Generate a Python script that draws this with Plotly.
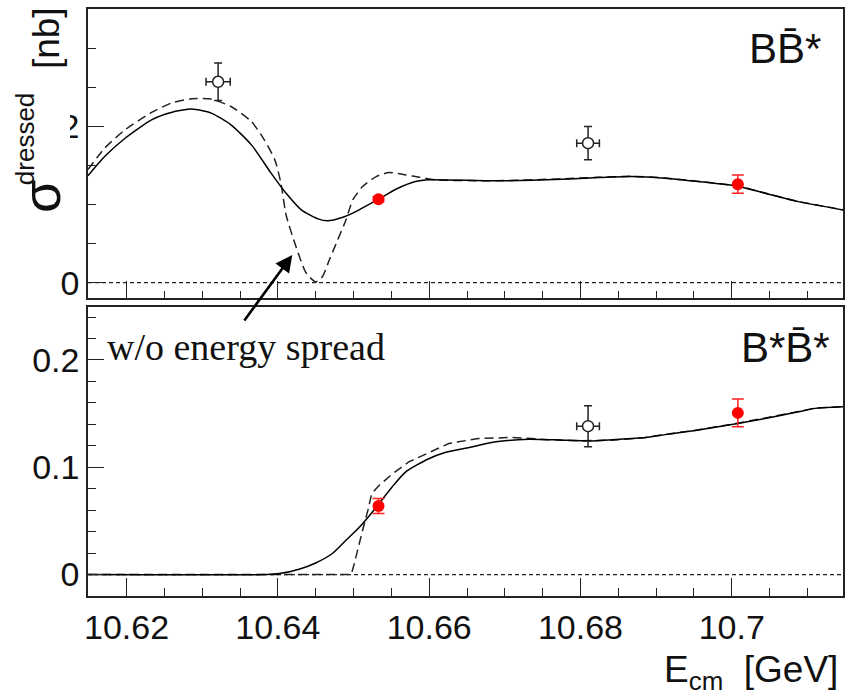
import plotly.graph_objects as go

# ---------------- data ----------------
# B Bbar* : model curves (with / without beam energy spread)
e_bbs_spread = [10.6149, 10.6171, 10.6198, 10.6233, 10.6259, 10.6286, 10.6312, 10.6338,
                10.6365, 10.6391, 10.6409, 10.6431, 10.6453, 10.6466, 10.6486, 10.6499,
                10.6533, 10.6556, 10.6582, 10.6600, 10.6688, 10.6776, 10.6824, 10.6868,
                10.6912, 10.6956, 10.7008, 10.7044, 10.7088, 10.7147]
s_bbs_spread = [0.1370, 0.1615, 0.1850, 0.2086, 0.2180, 0.2223, 0.2172, 0.2022,
                0.1765, 0.1403, 0.1167, 0.0932, 0.0817, 0.0792, 0.0838, 0.0890,
                0.1069, 0.1197, 0.1295, 0.1317, 0.1304, 0.1325, 0.1346, 0.1359,
                0.1338, 0.1295, 0.1235, 0.1146, 0.1038, 0.0932]

e_bbs_nospread = [10.6149, 10.6171, 10.6198, 10.6233, 10.6259, 10.6286, 10.6312, 10.6338,
                  10.6365, 10.6382, 10.6396, 10.6404, 10.6411, 10.6424, 10.6437, 10.6450,
                  10.6459, 10.6468, 10.6479, 10.6490, 10.6499, 10.6512, 10.6530, 10.6547,
                  10.6569, 10.6587, 10.6609, 10.6688, 10.6776, 10.6824, 10.6868, 10.6912,
                  10.6956, 10.7008, 10.7044, 10.7088, 10.7147]
s_bbs_nospread = [0.1450, 0.1723, 0.1958, 0.2180, 0.2300, 0.2355, 0.2351, 0.2256,
                  0.2064, 0.1830, 0.1573, 0.1274, 0.0860, 0.0460, 0.0130, 0.0010,
                  0.0080, 0.0291, 0.0547, 0.0804, 0.1060, 0.1231, 0.1359, 0.1410,
                  0.1380, 0.1351, 0.1317, 0.1306, 0.1330, 0.1350, 0.1362, 0.1340,
                  0.1297, 0.1237, 0.1148, 0.1040, 0.0934]

# B Bbar* : measurements
e_bbs_open = [10.6321, 10.6810]
s_bbs_open = [0.2573, 0.1787]
ds_bbs_open = [0.0240, 0.0214]
de_bbs_open = [0.0016, 0.0015]

e_bbs_red = [10.6533, 10.7008]
s_bbs_red = [0.1069, 0.1262]
ds_bbs_red = [0.0030, 0.0118]

# B* Bbar* : model curves
e_bsbs_spread = [10.6149, 10.6385, 10.6402, 10.6428, 10.6450, 10.6472, 10.6490, 10.6508,
                 10.6525, 10.6551, 10.6569, 10.6598, 10.6622, 10.6653, 10.6688, 10.6732,
                 10.6776, 10.6811, 10.6846, 10.6886, 10.6916, 10.6956, 10.7008, 10.7044,
                 10.7088, 10.7110, 10.7147]
s_bsbs_spread = [0.0, 0.0, 0.0009, 0.0050, 0.0108, 0.0196, 0.0320, 0.0444,
                 0.0584, 0.0817, 0.0957, 0.1075, 0.1140, 0.1185, 0.1237, 0.1262,
                 0.1253, 0.1246, 0.1259, 0.1278, 0.1309, 0.1347, 0.1409, 0.1455,
                 0.1517, 0.1549, 0.1563]

e_bsbs_nospread = [10.6149, 10.6497, 10.6501, 10.6507, 10.6512, 10.6519, 10.6524, 10.6534,
                   10.6552, 10.6573, 10.6604, 10.6626, 10.6665, 10.6710, 10.6754, 10.6798,
                   10.6842, 10.6886, 10.6916, 10.6956, 10.7008, 10.7044, 10.7088, 10.7110,
                   10.7147]
s_bsbs_nospread = [0.0, 0.0, 0.0103, 0.0258, 0.0413, 0.0600, 0.0756, 0.0833,
                   0.0942, 0.1050, 0.1153, 0.1222, 0.1268, 0.1278, 0.1259, 0.1246,
                   0.1253, 0.1278, 0.1311, 0.1349, 0.1411, 0.1457, 0.1519, 0.1551,
                   0.1565]

# B* Bbar* : measurements
e_bsbs_open = [10.6810]
s_bsbs_open = [0.1383]
ds_bsbs_open = [0.0191]
de_bsbs_open = [0.0015]

e_bsbs_red = [10.6533, 10.7008]
s_bsbs_red = [0.0640, 0.1507]
ds_bsbs_red = [0.0070, 0.0129]

x_range = [10.6149, 10.7147]
y_range_top = [-0.02, 0.3505]
y_range_bot = [-0.02, 0.2494]

# ---------------- styling ----------------
INK = "#222222"
SANS = "Liberation Sans, Arial, sans-serif"
TICK_FONT = dict(family=SANS, size=34, color="#111111")
W, H = 852, 700
ML, MR, MT, MB = 88, 7, 9, 104


def px_to_paper(px, py):
    """Pixel position in the page -> paper coordinates."""
    return (px - ML) / (W - ML - MR), (H - MB - py) / (H - MT - MB)


fig = go.Figure()


def add_panel(xa, ya, e_spread, s_spread, e_nospread, s_nospread,
              e_open, s_open, ds_open, de_open, e_red, s_red, ds_red, dash_shape):
    # dotted zero line
    fig.add_trace(go.Scatter(x=x_range, y=[0, 0], mode="lines", xaxis=xa, yaxis=ya,
                             line=dict(color=INK, width=1.2, dash="4px,3px"),
                             hoverinfo="skip", showlegend=False))
    # without energy spread
    fig.add_trace(go.Scatter(x=e_nospread, y=s_nospread, mode="lines", xaxis=xa, yaxis=ya,
                             line=dict(color=INK, width=1.5, dash="9px,5px",
                                       shape=dash_shape, smoothing=0.6),
                             showlegend=False))
    # with energy spread
    fig.add_trace(go.Scatter(x=e_spread, y=s_spread, mode="lines", xaxis=xa, yaxis=ya,
                             line=dict(color="black", width=1.5, shape="spline", smoothing=0.6),
                             showlegend=False))
    # open markers
    fig.add_trace(go.Scatter(x=e_open, y=s_open, mode="markers", xaxis=xa, yaxis=ya,
                             marker=dict(symbol="circle", size=11, color="white",
                                         line=dict(color=INK, width=1.5)),
                             error_y=dict(type="data", array=ds_open, color=INK,
                                          thickness=1.5, width=4),
                             error_x=dict(type="data", array=de_open, color=INK,
                                          thickness=1.5, width=4),
                             showlegend=False))
    # filled red markers
    fig.add_trace(go.Scatter(x=e_red, y=s_red, mode="markers", xaxis=xa, yaxis=ya,
                             marker=dict(symbol="circle", size=12, color="#ff0000"),
                             error_y=dict(type="data", array=ds_red, color="#ff2020",
                                          thickness=1.5, width=6),
                             showlegend=False))


add_panel("x", "y", e_bbs_spread, s_bbs_spread, e_bbs_nospread, s_bbs_nospread,
          e_bbs_open, s_bbs_open, ds_bbs_open, de_bbs_open,
          e_bbs_red, s_bbs_red, ds_bbs_red, "spline")
add_panel("x2", "y2", e_bsbs_spread, s_bsbs_spread, e_bsbs_nospread, s_bsbs_nospread,
          e_bsbs_open, s_bsbs_open, ds_bsbs_open, de_bsbs_open,
          e_bsbs_red, s_bsbs_red, ds_bsbs_red, "linear")

top_lo = (H - MB - 298.3) / (H - MT - MB)
bot_hi = (H - MB - 307.0) / (H - MT - MB)

xaxis_common = dict(range=x_range, showgrid=False, zeroline=False,
                    showline=True, mirror=True, linecolor=INK, linewidth=1.5,
                    ticks="inside", ticklen=18, tickwidth=1.3, tickcolor=INK,
                    tick0=10.62, dtick=0.02,
                    minor=dict(ticks="inside", ticklen=8, tickwidth=1.3, tickcolor=INK,
                               tick0=10.62, dtick=0.005),
                    tickfont=TICK_FONT)
yaxis_common = dict(showgrid=False, zeroline=False,
                    showline=True, mirror=True, linecolor=INK, linewidth=1.5,
                    ticks="inside", ticklen=16, tickwidth=1.3, tickcolor=INK,
                    tick0=0, tickfont=TICK_FONT)

fig.update_layout(
    width=W, height=H,
    margin=dict(l=ML, r=MR, t=MT, b=MB),
    paper_bgcolor="white", plot_bgcolor="white",
    xaxis=dict(xaxis_common, anchor="y", showticklabels=False),
    yaxis=dict(yaxis_common, domain=[top_lo, 1.0], range=y_range_top, dtick=0.2,
               minor=dict(ticks="inside", ticklen=8, tickwidth=1.3, tickcolor=INK,
                          tick0=0, dtick=0.05)),
    xaxis2=dict(xaxis_common, anchor="y2"),
    yaxis2=dict(yaxis_common, domain=[0.0, bot_hi], range=y_range_bot, dtick=0.1,
                minor=dict(ticks="inside", ticklen=8, tickwidth=1.3, tickcolor=INK,
                           tick0=0, dtick=0.02)),
)

# white patch over the left of the upper "0.2" label, under the axis title
x0, y0 = px_to_paper(20, 142)
x1, y1 = px_to_paper(70, 112)
fig.add_shape(type="rect", xref="paper", yref="paper", x0=x0, y0=y0, x1=x1, y1=y1,
              fillcolor="white", line=dict(width=0), layer="above")


def note(text, px, py, size, family=SANS, angle=0, xanchor="center", yanchor="middle"):
    xp, yp = px_to_paper(px, py)
    fig.add_annotation(text=text, x=xp, y=yp, xref="paper", yref="paper",
                       showarrow=False, textangle=angle, xanchor=xanchor, yanchor=yanchor,
                       font=dict(family=family, size=size, color="#111111"))


# vertical axis title: sigma^dressed [nb]
note("σ", 41, 197, 54, angle=-90)
note("dressed", 25, 139, 26, angle=-90)
note("[nb]", 46, 38, 37, angle=-90)

# horizontal axis title
note("E<sub>cm</sub>  [GeV]", 842, 672, 37, xanchor="right")

# channel labels
note("BB\u0304*", 787, 48, 42)
note("B*B\u0304*", 787, 347, 42)

# arrow pointing at the unsmeared dip
fig.add_annotation(x=10.6419, y=0.0355, xref="x", yref="y", ax=-49, ay=67,
                   showarrow=True, arrowhead=2, arrowsize=1.3, arrowwidth=2.6,
                   arrowcolor="black", text="")
note("w/o energy spread", 105, 347, 38, family="Liberation Serif, Times New Roman, serif",
     xanchor="left")

fig.write_html("out.html")
